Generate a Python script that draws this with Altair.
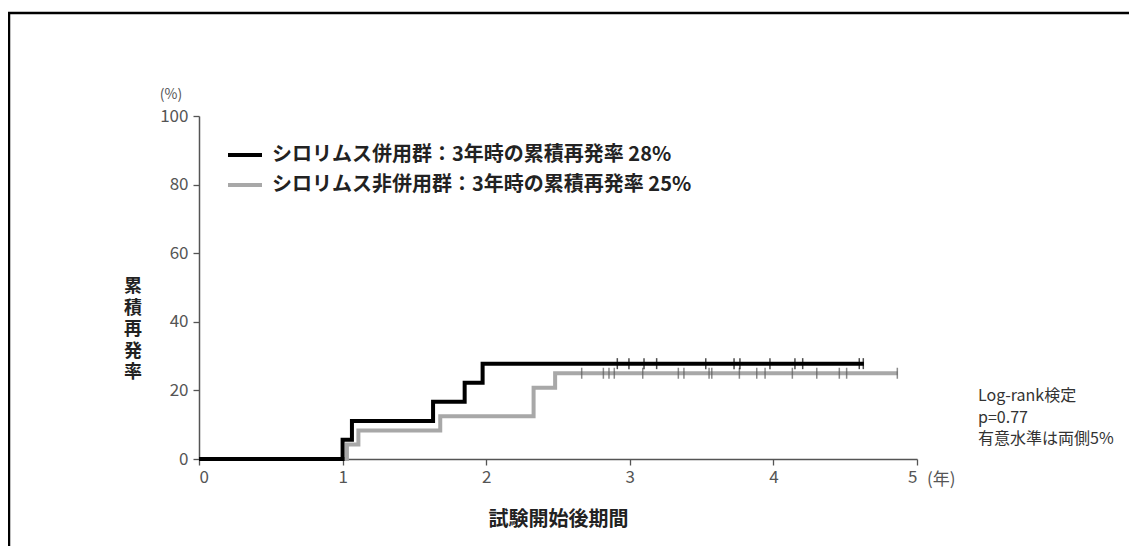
import altair as alt
import pandas as pd

FONT = "Noto Sans CJK JP"

# ---- data ----
grp_a = "シロリムス併用群：3年時の累積再発率 28%"
grp_b = "シロリムス非併用群：3年時の累積再発率 25%"

a_time = [0, 1.00, 1.065, 1.63, 1.85, 1.975, 4.63]
a_rate = [0, 5.6, 11.1, 16.7, 22.2, 27.8, 27.8]
b_time = [0, 1.03, 1.11, 1.68, 2.33, 2.48, 4.865]
b_rate = [0, 4.2, 8.3, 12.5, 20.8, 25.0, 25.0]

a_censor = [2.913, 2.994, 3.099, 3.187, 3.529, 3.726, 3.767, 3.976, 4.150, 4.204, 4.598, 4.626]
a_censor_level = 27.8
b_censor = [2.665, 2.816, 2.855, 2.892, 3.090, 3.338, 3.377, 3.552, 3.571, 3.763,
            3.884, 3.942, 4.132, 4.302, 4.459, 4.510, 4.863]
b_censor_level = 25.0

x_ticks = [0, 1, 2, 3, 4, 5]
y_ticks = [0, 20, 40, 60, 80, 100]

x_title = "試験開始後期間"
y_title = "累\n積\n再\n発\n率"
y_unit = "(%)"
x_unit = "(年)"
note = "Log-rank検定\np=0.77\n有意水準は両側5%"

# ---- tables ----
df_a = pd.DataFrame({"t": a_time, "r": a_rate, "g": grp_a})
df_b = pd.DataFrame({"t": b_time, "r": b_rate, "g": grp_b})
df_ca = pd.DataFrame({"t": a_censor, "r": a_censor_level})
df_cb = pd.DataFrame({"t": b_censor, "r": b_censor_level})

xs = alt.Scale(domain=[0, 5], nice=False)
ys = alt.Scale(domain=[0, 100], nice=False)
cs = alt.Scale(domain=[grp_a, grp_b], range=["#000000", "#a8a8a8"])

x_axis = alt.Axis(values=x_ticks, format="d", title=x_title, titleFontSize=20,
                  titleFontWeight="bold", titleColor="#222", titleFont=FONT,
                  titlePadding=24, labelFontSize=17, labelColor="#555", labelFont=FONT,
                  labelPadding=4, tickSize=6, tickColor="#555", tickWidth=1.3,
                  domainColor="#555", domainWidth=1.5, grid=False)
y_axis = alt.Axis(values=y_ticks, format="d", title=None, labelFontSize=17,
                  labelColor="#555", labelFont=FONT, labelPadding=5, tickSize=6,
                  tickColor="#555", tickWidth=1.3, domainColor="#555",
                  domainWidth=1.5, grid=False)

legend = alt.Legend(title=None, orient="none", legendX=27, legendY=20,
                    symbolType="stroke", symbolStrokeWidth=4, symbolSize=1156,
                    labelFontSize=20, labelFontWeight="bold", labelFont=FONT,
                    labelColor="#222", labelOffset=8, labelLimit=800,
                    rowPadding=1, padding=0)

line_b = alt.Chart(df_b).mark_line(interpolate="step-after", strokeWidth=4).encode(
    x=alt.X("t:Q", scale=xs, axis=x_axis),
    y=alt.Y("r:Q", scale=ys, axis=y_axis),
    color=alt.Color("g:N", scale=cs, legend=legend),
)
line_a = alt.Chart(df_a).mark_line(interpolate="step-after", strokeWidth=4).encode(
    x=alt.X("t:Q", scale=xs),
    y=alt.Y("r:Q", scale=ys),
    color=alt.Color("g:N", scale=cs, legend=legend),
)
tick_b = alt.Chart(df_cb).mark_tick(orient="vertical", size=11, thickness=1.5,
                                    color="#5a5a5a").encode(
    x=alt.X("t:Q", scale=xs), y=alt.Y("r:Q", scale=ys))
tick_a = alt.Chart(df_ca).mark_tick(orient="vertical", size=11, thickness=1.5,
                                    color="#000000").encode(
    x=alt.X("t:Q", scale=xs), y=alt.Y("r:Q", scale=ys))

one = pd.DataFrame({"v": [0]})
ytitle = alt.Chart(pd.DataFrame({"s": [y_title]})).mark_text(
    lineBreak="\n", lineHeight=21.5, fontSize=18, fontWeight="bold", font=FONT,
    color="#222", align="center", baseline="middle").encode(
    text="s:N", x=alt.value(-66), y=alt.value(171))
yunit = alt.Chart(pd.DataFrame({"s": [y_unit]})).mark_text(
    fontSize=14, font=FONT, color="#555", align="center", baseline="middle").encode(
    text="s:N", x=alt.value(-28), y=alt.value(-21))
xunit = alt.Chart(pd.DataFrame({"s": [x_unit]})).mark_text(
    fontSize=17, font=FONT, color="#555", align="left", baseline="middle").encode(
    text="s:N", x=alt.value(728), y=alt.value(364))
notes = alt.Chart(pd.DataFrame({"s": [note]})).mark_text(
    lineBreak="\n", lineHeight=21.5, fontSize=16, font=FONT, color="#333",
    align="left", baseline="top").encode(
    text="s:N", x=alt.value(779), y=alt.value(272))

border_l = alt.Chart(one).mark_rule(color="#000", strokeWidth=2.5).encode(
    x=alt.value(-190), y=alt.value(-104), y2=alt.value(440))
border_t = alt.Chart(one).mark_rule(color="#000", strokeWidth=2.5).encode(
    x=alt.value(-191), x2=alt.value(940), y=alt.value(-103))

chart = alt.layer(
    line_b, line_a, tick_b, tick_a, ytitle, yunit, xunit, notes, border_l, border_t
).properties(
    width=718, height=343,
    autosize=alt.AutoSizeParams(type="none"),
    padding={"left": 191, "top": 108, "right": 212, "bottom": 87},
).configure_view(strokeWidth=0, stroke=None)

chart.save("out.html", embed_options={"renderer": "svg", "actions": False})
